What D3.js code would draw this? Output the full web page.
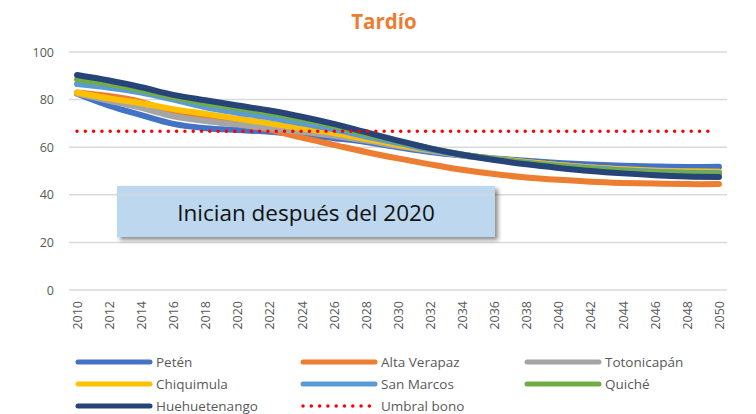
<!DOCTYPE html>
<html>
<head>
<meta charset="utf-8">
<style type="text/css">
  body { margin: 0; background: #fff; }
  text { font-family: "Open Sans", "Noto Sans", sans-serif; }
  .grid line { stroke: #d9d9d9; stroke-width: 1.5; }
</style>
</head>
<body>
<svg id="viewport" width="756" height="414"></svg>
<script src="https://cdn.jsdelivr.net/npm/d3@7"></script>
<script>
  var svg = d3.select("svg"),
    width = +svg.attr("width"),
    height = +svg.attr("height");

  // DATA
  var years = [2010, 2012, 2014, 2016, 2018, 2020, 2022, 2024, 2026, 2028, 2030,
               2032, 2034, 2036, 2038, 2040, 2042, 2044, 2046, 2048, 2050];
  var yTicks = [0, 20, 40, 60, 80, 100];
  var peten = [82.5, 77.5, 73.5, 69.8, 68.0, 67.2, 66.5, 65.3, 63.8, 62.2, 60.0,
               58.0, 56.5, 55.3, 54.3, 53.4, 52.7, 52.2, 51.9, 51.7, 51.8];
  var altaVerapaz = [83.0, 81.5, 79.0, 74.5, 72.0, 69.8, 67.3, 64.0, 61.0, 58.0, 55.3,
                     52.8, 50.5, 48.7, 47.3, 46.3, 45.5, 45.0, 44.7, 44.5, 44.5];
  var totonicapan = [82.5, 79.5, 76.5, 73.0, 71.0, 69.5, 68.0, 66.5, 64.8, 62.8, 60.5,
                     58.5, 56.5, 55.0, 53.7, 52.5, 51.5, 50.7, 50.2, 49.9, 49.8];
  var chiquimula = [83.0, 80.5, 78.5, 76.0, 74.0, 72.0, 70.0, 68.0, 66.0, 63.5, 61.0,
                    58.8, 56.8, 55.2, 53.8, 52.5, 51.5, 50.7, 50.1, 49.8, 49.6];
  var sanMarcos = [86.5, 85.0, 83.0, 80.0, 76.8, 74.5, 72.5, 70.0, 67.5, 64.5, 61.8,
                   59.0, 56.8, 55.0, 53.5, 52.2, 51.2, 50.3, 49.7, 49.3, 49.2];
  var quiche = [88.5, 86.5, 84.0, 81.0, 78.5, 76.5, 74.3, 71.8, 69.0, 65.5, 62.5,
                59.5, 57.0, 55.0, 53.3, 52.0, 50.8, 50.0, 49.3, 49.0, 48.8];
  var huehuetenango = [90.3, 88.0, 85.2, 82.0, 79.7, 77.5, 75.4, 72.8, 69.8, 66.3, 62.8,
                       59.5, 56.8, 54.6, 52.8, 51.3, 50.0, 49.0, 48.2, 47.7, 47.5];
  var umbral = 66.7;

  var seriesNames = ["Petén", "Alta Verapaz", "Totonicapán", "Chiquimula",
                     "San Marcos", "Quiché", "Huehuetenango"];
  var seriesValues = [peten, altaVerapaz, totonicapan, chiquimula, sanMarcos, quiche, huehuetenango];
  var seriesColors = ["#4472c4", "#ed7d31", "#a5a5a5", "#ffc000", "#5b9bd5", "#70ad47", "#264478"];

  // Scales
  var x = d3.scaleLinear().domain([2009.5, 2050.5]).range([69, 727]);
  var y = d3.scaleLinear().domain([0, 100]).range([290, 52]);

  // Title
  svg.append("text")
    .attr("x", 384)
    .attr("y", 29)
    .attr("text-anchor", "middle")
    .style("font-size", "20.5px")
    .style("font-weight", "bold")
    .style("fill", "#ed7d31")
    .text("Tardío");

  // Gridlines
  svg.append("g")
    .attr("class", "grid")
    .selectAll("line")
    .data(yTicks)
    .enter()
    .append("line")
    .attr("x1", 69)
    .attr("x2", 727)
    .attr("y1", function(d) { return y(d); })
    .attr("y2", function(d) { return y(d); });

  // Y axis labels
  var yAxis = d3.axisLeft(y).tickValues(yTicks).tickSize(0).tickPadding(0);
  var gy = svg.append("g")
    .attr("transform", "translate(54,0)")
    .call(yAxis);
  gy.select(".domain").remove();
  gy.selectAll("text")
    .style("font-family", "'Open Sans', sans-serif")
    .style("font-size", "12.5px")
    .style("fill", "#595959");

  // X axis labels (rotated)
  var xAxis = d3.axisBottom(x).tickValues(years).tickFormat(d3.format("d")).tickSize(0);
  var gx = svg.append("g")
    .attr("transform", "translate(0,290)")
    .call(xAxis);
  gx.select(".domain").remove();
  gx.selectAll("text")
    .attr("transform", "rotate(-90)")
    .attr("text-anchor", "end")
    .attr("x", -11)
    .attr("y", 0)
    .attr("dy", "0.35em")
    .style("font-family", "'Open Sans', sans-serif")
    .style("font-size", "12.5px")
    .style("fill", "#595959");

  // Shadow filter for the note box
  var defs = svg.append("defs");
  var filter = defs.append("filter")
    .attr("id", "shadow")
    .attr("x", "-10%").attr("y", "-20%")
    .attr("width", "130%").attr("height", "160%");
  filter.append("feDropShadow")
    .attr("dx", 3)
    .attr("dy", 3)
    .attr("stdDeviation", 2)
    .attr("flood-color", "#000")
    .attr("flood-opacity", 0.45);

  // Lines
  var line = d3.line()
    .x(function(d, i) { return x(years[i]); })
    .y(function(d) { return y(d); })
    .curve(d3.curveCatmullRom.alpha(0.5));

  svg.append("g")
    .selectAll("path")
    .data(seriesValues)
    .enter()
    .append("path")
    .attr("d", line)
    .attr("fill", "none")
    .attr("stroke", function(d, i) { return seriesColors[i]; })
    .attr("stroke-width", 6)
    .attr("stroke-linecap", "round")
    .attr("stroke-linejoin", "round");

  // Threshold
  svg.append("line")
    .attr("x1", x(2010))
    .attr("x2", x(2050) - 4)
    .attr("y1", y(umbral))
    .attr("y2", y(umbral))
    .attr("stroke", "#ff0000")
    .attr("stroke-width", 3.5)
    .attr("stroke-linecap", "round")
    .attr("stroke-dasharray", "0 8.3");

  // Note box
  var note = svg.append("g");
  note.append("rect")
    .attr("x", 117)
    .attr("y", 186)
    .attr("width", 378)
    .attr("height", 51)
    .attr("fill", "#bdd7ee")
    .attr("filter", "url(#shadow)");
  note.append("line")
    .attr("x1", 117)
    .attr("x2", 495)
    .attr("y1", y(40))
    .attr("y2", y(40))
    .attr("stroke", "#d9d9d9")
    .attr("stroke-opacity", 0.7)
    .attr("stroke-width", 1.5);
  note.append("text")
    .attr("x", 306)
    .attr("y", 221)
    .attr("text-anchor", "middle")
    .style("font-size", "22.5px")
    .style("fill", "#111")
    .text("Inician después del 2020");

  // Legend
  var legendNames = seriesNames.concat(["Umbral bono"]);
  var legendColors = seriesColors.concat(["#ff0000"]);
  var colX = [78, 303, 527];
  var rowY = [362, 384, 406];

  var legend = svg.append("g")
    .selectAll("g")
    .data(legendNames)
    .enter()
    .append("g")
    .attr("transform", function(d, i) {
      return "translate(" + colX[i % 3] + "," + rowY[Math.floor(i / 3)] + ")";
    });

  legend.append("line")
    .attr("x1", 0)
    .attr("x2", 72)
    .attr("stroke", function(d, i) { return legendColors[i]; })
    .attr("stroke-width", function(d, i) { return i == 7 ? 3.5 : 5; })
    .attr("stroke-linecap", "round")
    .attr("stroke-dasharray", function(d, i) { return i == 7 ? "0 8.3" : null; });

  legend.append("text")
    .attr("x", 78)
    .attr("dy", "0.35em")
    .style("font-size", "13.5px")
    .style("fill", "#595959")
    .text(function(d) { return d; });
</script>
</body>
</html>
